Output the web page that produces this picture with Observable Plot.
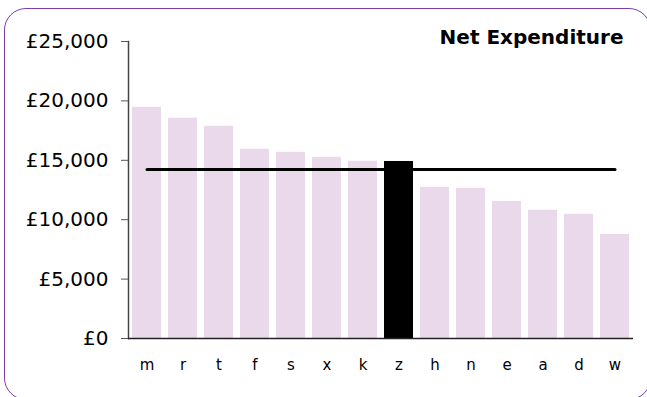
<!DOCTYPE html>
<html>
<head>
<meta charset="utf-8">
<script src="https://cdn.jsdelivr.net/npm/d3@7"></script>
<script src="https://cdn.jsdelivr.net/npm/@observablehq/plot@0.6"></script>
<style>
  html, body { margin: 0; padding: 0; background: #fff; }
  #wrap { position: relative; width: 647px; height: 397px; overflow: hidden; font-family: "DejaVu Sans", Verdana, sans-serif; }
  #frame { position: absolute; left: 3.75px; top: 7.75px; width: 647px; height: 392.5px; box-sizing: border-box;
           border: 1.5px solid #7a3ea6; border-radius: 22px; pointer-events: none; }
  #chart { position: absolute; left: 0; top: 0; }
</style>
</head>
<body>
<div id="wrap"><div id="chart"></div><div id="frame"></div></div>
<script>
const categories = ["m","r","t","f","s","x","k","z","h","n","e","a","d","w"];
const values = [19460, 18540, 17860, 15930, 15670, 15250, 14920, 14900, 12720, 12640, 11540, 10790, 10450, 8760];
const highlight = "z";
const average = 14230;
const yTicks = [0, 5000, 10000, 15000, 20000, 25000];
const title = "Net Expenditure";

const data = categories.map((c, i) => ({cat: c, value: values[i], hi: c === highlight}));
const avgData = categories.map(c => ({cat: c, value: average}));
const fmt = d3.format(",");

const chart = Plot.plot({
  width: 647,
  height: 397,
  marginLeft: 128,
  marginRight: 14,
  marginTop: 41,
  marginBottom: 59,
  style: {fontFamily: "\"DejaVu Sans\", Verdana, sans-serif", background: "transparent", color: "#000"},
  x: {domain: categories, paddingInner: 0.19, paddingOuter: 0.1, label: null},
  y: {domain: [0, 25000], label: null},
  marks: [
    Plot.barY(data, {x: "cat", y: "value", fill: d => d.hi ? "#000000" : "#ead9eb"}),
    Plot.frame({anchor: "left", stroke: "#444", strokeWidth: 1.5}),
    Plot.ruleY([0], {stroke: "#222", strokeWidth: 1.5}),
    Plot.line(avgData, {x: "cat", y: "value", stroke: "#000", strokeWidth: 3}),
    Plot.axisY({ticks: yTicks, tickFormat: d => "£" + fmt(d), tickSize: 7, tickPadding: 13, fontSize: 20, stroke: "#555", label: null}),
    Plot.axisX({tickSize: 0, tickPadding: 21, fontSize: 15, label: null}),
    Plot.text([title], {frameAnchor: "top-right", textAnchor: "end", lineAnchor: "middle", dx: -10, dy: -4, fontSize: 20, fontWeight: "bold", fill: "#000"})
  ]
});
document.getElementById("chart").appendChild(chart);
</script>
</body>
</html>
